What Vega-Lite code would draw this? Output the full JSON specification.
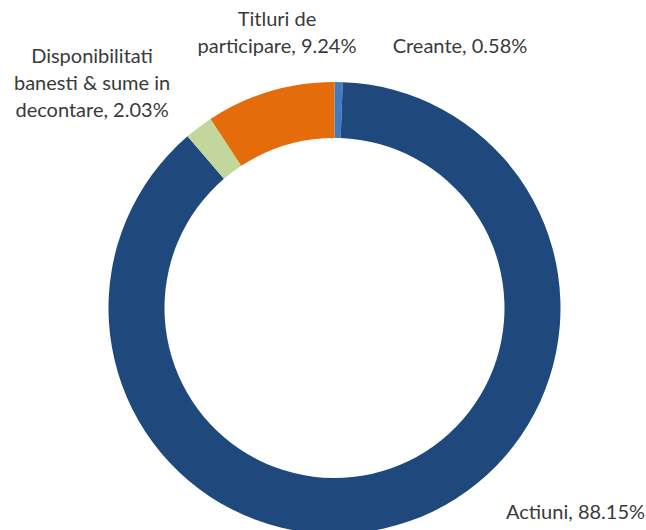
{
  "$schema": "https://vega.github.io/schema/vega-lite/v6.json",
  "width": 623,
  "height": 444,
  "autosize": {"type": "none"},
  "padding": {"left": 23, "top": 86, "right": 0, "bottom": 0},
  "background": "white",
  "config": {"view": {"stroke": null}},
  "data": {
    "values": [
      {"category": "Creante", "value": 0.58, "ord": 1, "label": ["Creante, 0.58%"]},
      {"category": "Actiuni", "value": 88.15, "ord": 2, "label": ["Actiuni, 88.15%"]},
      {"category": "Disponibilitati banesti & sume in decontare", "value": 2.03, "ord": 3, "label": ["Disponibilitati", "banesti & sume in", "decontare, 2.03%"]},
      {"category": "Titluri de participare", "value": 9.24, "ord": 4, "label": ["Titluri de", "participare, 9.24%"]}
    ]
  },
  "layer": [
    {
      "mark": {"type": "arc", "radius": 226, "radius2": 170},
      "encoding": {
        "theta": {"field": "value", "type": "quantitative", "stack": true},
        "order": {"field": "ord", "type": "quantitative"},
        "color": {
          "field": "category",
          "type": "nominal",
          "legend": null,
          "scale": {
            "domain": ["Creante", "Actiuni", "Disponibilitati banesti & sume in decontare", "Titluri de participare"],
            "range": ["#3F7CC4", "#1F497D", "#C3D69B", "#E46C0A"]
          }
        }
      }
    },
    {
      "transform": [{"filter": "datum.ord == 1"}],
      "mark": {"type": "text", "radius": 289.6, "theta": 0.4482, "font": "Lato", "fontSize": 20, "color": "#3a3a3a", "align": "center", "baseline": "middle", "lineHeight": 27},
      "encoding": {"text": {"field": "label"}}
    },
    {
      "transform": [{"filter": "datum.ord == 2"}],
      "mark": {"type": "text", "radius": 316.4, "theta": 2.2756, "font": "Lato", "fontSize": 20, "color": "#3a3a3a", "align": "center", "baseline": "middle", "lineHeight": 27},
      "encoding": {"text": {"field": "label"}}
    },
    {
      "transform": [{"filter": "datum.ord == 3"}],
      "mark": {"type": "text", "radius": 349.0, "theta": -0.768, "font": "Lato", "fontSize": 20, "color": "#3a3a3a", "align": "center", "baseline": "middle", "lineHeight": 27},
      "encoding": {"text": {"field": "label"}}
    },
    {
      "transform": [{"filter": "datum.ord == 4"}],
      "mark": {"type": "text", "radius": 293.7, "theta": -0.197, "font": "Lato", "fontSize": 20, "color": "#3a3a3a", "align": "center", "baseline": "middle", "lineHeight": 27},
      "encoding": {"text": {"field": "label"}}
    }
  ]
}
